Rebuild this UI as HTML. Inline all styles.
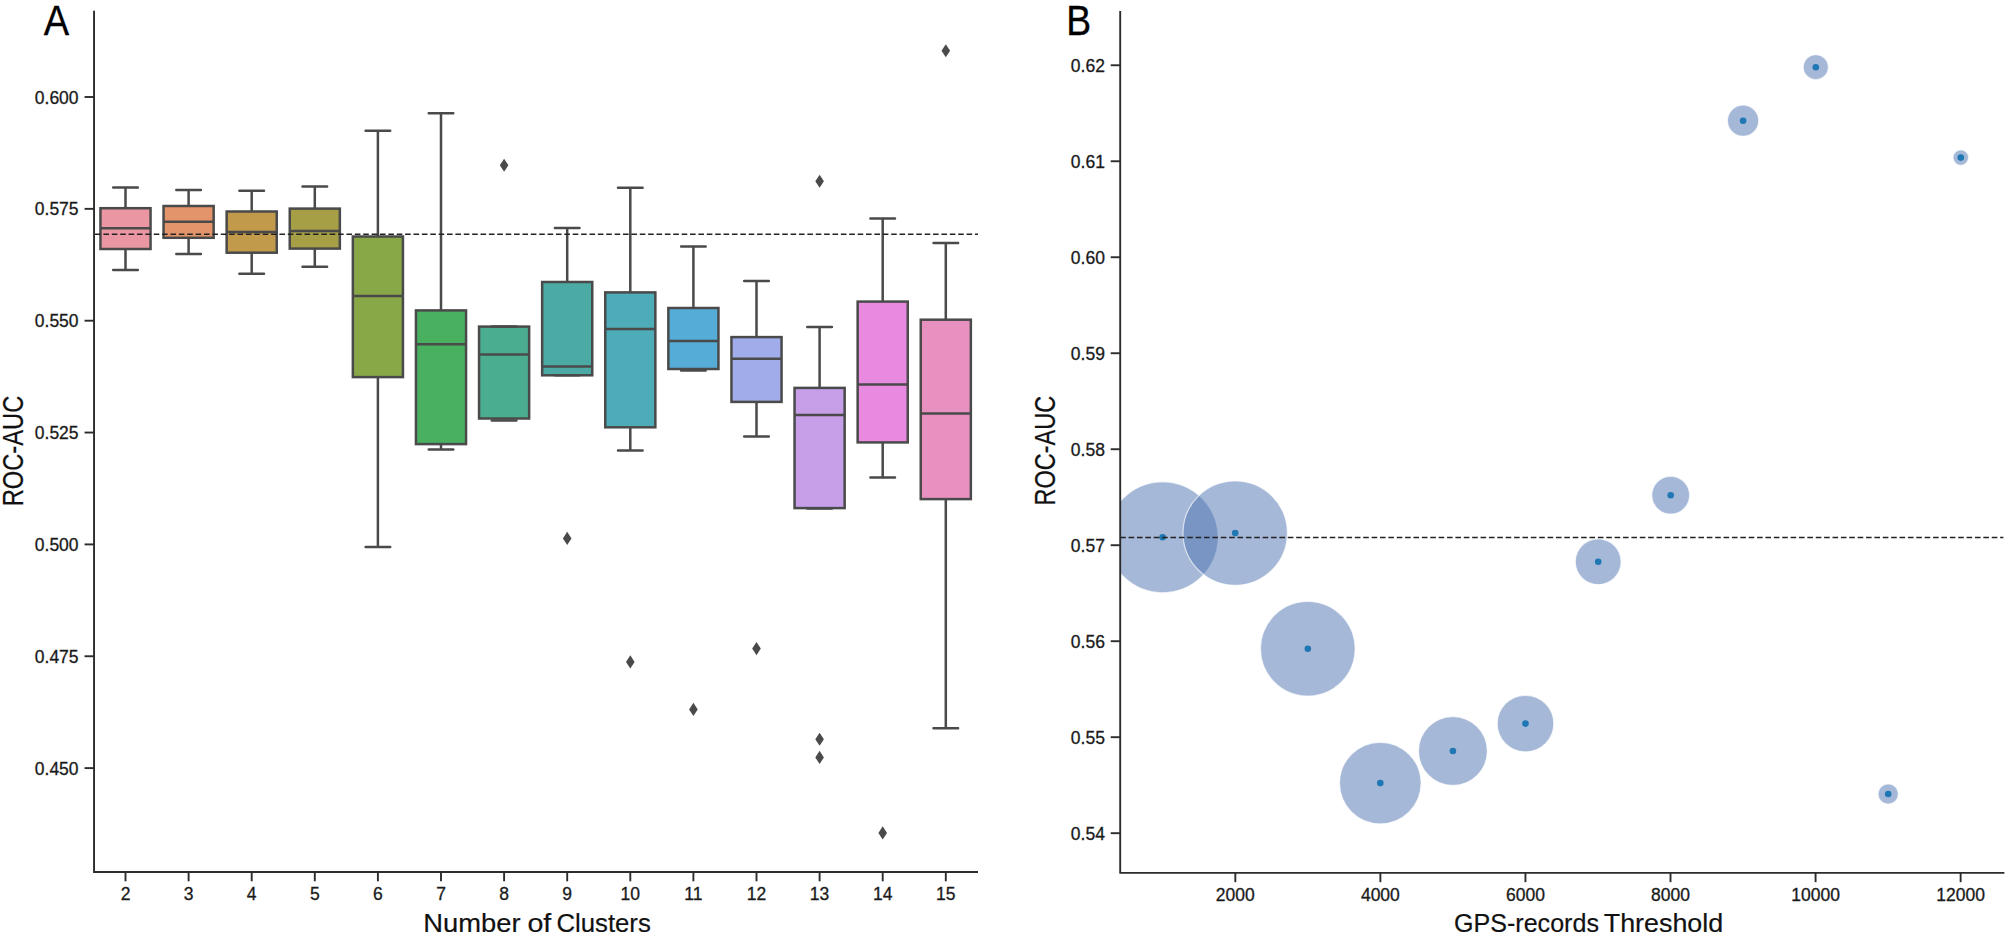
<!DOCTYPE html>
<html lang="en"><head><meta charset="utf-8"><title>ROC-AUC figure</title>
<style>html,body{margin:0;padding:0;background:#fff}svg{display:block}text{font-family:"Liberation Sans",Arial,Helvetica,sans-serif}.tk{font-size:17.5px;fill:#1a1a1a;stroke:#1a1a1a;stroke-width:.3px}.lb{font-size:26.5px;fill:#111;stroke:#111;stroke-width:.2px}.yl{font-size:29.4px}.pl{font-size:43.1px;fill:#000;stroke:#000;stroke-width:.3px}</style>
</head><body>
<svg width="2007" height="936" viewBox="0 0 2007 936">
<rect width="2007" height="936" fill="#fff"/>
<g id="panelA">
<g stroke="#4a4a4a" stroke-width="2.50" fill="none">
<rect x="100.45" y="208.20" width="50.10" height="40.80" fill="#ea96a3" stroke-linejoin="miter"/>
<path d="M125.50 208.20V187.60M125.50 249.00V270.00"/>
<path stroke-linecap="round" d="M113.20 187.60H137.80M113.20 270.00H137.80"/>
<path d="M100.45 228.30H150.55"/>
</g>
<g stroke="#4a4a4a" stroke-width="2.50" fill="none">
<rect x="163.55" y="206.00" width="50.10" height="31.80" fill="#e4946a" stroke-linejoin="miter"/>
<path d="M188.60 206.00V189.90M188.60 237.80V254.00"/>
<path stroke-linecap="round" d="M176.30 189.90H200.90M176.30 254.00H200.90"/>
<path d="M163.55 221.70H213.65"/>
</g>
<g stroke="#4a4a4a" stroke-width="2.50" fill="none">
<rect x="226.65" y="211.50" width="50.10" height="41.20" fill="#c29a4b" stroke-linejoin="miter"/>
<path d="M251.70 211.50V190.80M251.70 252.70V273.80"/>
<path stroke-linecap="round" d="M239.40 190.80H264.00M239.40 273.80H264.00"/>
<path d="M226.65 232.10H276.75"/>
</g>
<g stroke="#4a4a4a" stroke-width="2.50" fill="none">
<rect x="289.75" y="208.60" width="50.10" height="40.00" fill="#a69f46" stroke-linejoin="miter"/>
<path d="M314.80 208.60V186.40M314.80 248.60V266.80"/>
<path stroke-linecap="round" d="M302.50 186.40H327.10M302.50 266.80H327.10"/>
<path d="M289.75 231.10H339.85"/>
</g>
<g stroke="#4a4a4a" stroke-width="2.50" fill="none">
<rect x="352.85" y="236.50" width="50.10" height="140.60" fill="#88a746" stroke-linejoin="miter"/>
<path d="M377.90 236.50V130.70M377.90 377.10V546.90"/>
<path stroke-linecap="round" d="M365.60 130.70H390.20M365.60 546.90H390.20"/>
<path d="M352.85 296.00H402.95"/>
</g>
<g stroke="#4a4a4a" stroke-width="2.50" fill="none">
<rect x="415.95" y="310.40" width="50.10" height="133.70" fill="#48b05e" stroke-linejoin="miter"/>
<path d="M441.00 310.40V113.30M441.00 444.10V449.60"/>
<path stroke-linecap="round" d="M428.70 113.30H453.30M428.70 449.60H453.30"/>
<path d="M415.95 344.20H466.05"/>
</g>
<g stroke="#4a4a4a" stroke-width="2.50" fill="none">
<rect x="479.05" y="326.60" width="50.10" height="91.90" fill="#4aad8f" stroke-linejoin="miter"/>
<path d="M504.10 326.60V326.40M504.10 418.50V420.50"/>
<path stroke-linecap="round" d="M491.80 326.40H516.40M491.80 420.50H516.40"/>
<path d="M479.05 354.50H529.15"/>
</g>
<g stroke="#4a4a4a" stroke-width="2.50" fill="none">
<rect x="542.15" y="282.00" width="50.10" height="93.30" fill="#4baba4" stroke-linejoin="miter"/>
<path d="M567.20 282.00V228.10M567.20 375.30V375.30"/>
<path stroke-linecap="round" d="M554.90 228.10H579.50M554.90 375.30H579.50"/>
<path d="M542.15 366.50H592.25"/>
</g>
<g stroke="#4a4a4a" stroke-width="2.50" fill="none">
<rect x="605.25" y="292.40" width="50.10" height="134.90" fill="#4eabb8" stroke-linejoin="miter"/>
<path d="M630.30 292.40V187.70M630.30 427.30V450.60"/>
<path stroke-linecap="round" d="M618.00 187.70H642.60M618.00 450.60H642.60"/>
<path d="M605.25 329.10H655.35"/>
</g>
<g stroke="#4a4a4a" stroke-width="2.50" fill="none">
<rect x="668.35" y="308.00" width="50.10" height="61.00" fill="#55acd7" stroke-linejoin="miter"/>
<path d="M693.40 308.00V246.50M693.40 369.00V370.50"/>
<path stroke-linecap="round" d="M681.10 246.50H705.70M681.10 370.50H705.70"/>
<path d="M668.35 340.90H718.45"/>
</g>
<g stroke="#4a4a4a" stroke-width="2.50" fill="none">
<rect x="731.45" y="337.10" width="50.10" height="64.80" fill="#a0adea" stroke-linejoin="miter"/>
<path d="M756.50 337.10V281.10M756.50 401.90V436.60"/>
<path stroke-linecap="round" d="M744.20 281.10H768.80M744.20 436.60H768.80"/>
<path d="M731.45 358.70H781.55"/>
</g>
<g stroke="#4a4a4a" stroke-width="2.50" fill="none">
<rect x="794.55" y="387.90" width="50.10" height="120.20" fill="#c79fe9" stroke-linejoin="miter"/>
<path d="M819.60 387.90V327.10M819.60 508.10V508.50"/>
<path stroke-linecap="round" d="M807.30 327.10H831.90M807.30 508.50H831.90"/>
<path d="M794.55 415.00H844.65"/>
</g>
<g stroke="#4a4a4a" stroke-width="2.50" fill="none">
<rect x="857.65" y="301.60" width="50.10" height="140.80" fill="#e78ae0" stroke-linejoin="miter"/>
<path d="M882.70 301.60V218.40M882.70 442.40V477.50"/>
<path stroke-linecap="round" d="M870.40 218.40H895.00M870.40 477.50H895.00"/>
<path d="M857.65 384.60H907.75"/>
</g>
<g stroke="#4a4a4a" stroke-width="2.50" fill="none">
<rect x="920.75" y="319.70" width="50.10" height="179.40" fill="#e891c1" stroke-linejoin="miter"/>
<path d="M945.80 319.70V243.00M945.80 499.10V728.20"/>
<path stroke-linecap="round" d="M933.50 243.00H958.10M933.50 728.20H958.10"/>
<path d="M920.75 413.50H970.85"/>
</g>
<g fill="#4a4a4a">
<path d="M504.10 158.75L508.40 165.30L504.10 171.85L499.80 165.30Z"/>
<path d="M567.20 531.85L571.50 538.40L567.20 544.95L562.90 538.40Z"/>
<path d="M630.30 655.35L634.60 661.90L630.30 668.45L626.00 661.90Z"/>
<path d="M693.40 702.85L697.70 709.40L693.40 715.95L689.10 709.40Z"/>
<path d="M756.50 642.05L760.80 648.60L756.50 655.15L752.20 648.60Z"/>
<path d="M819.60 174.65L823.90 181.20L819.60 187.75L815.30 181.20Z"/>
<path d="M819.60 732.65L823.90 739.20L819.60 745.75L815.30 739.20Z"/>
<path d="M819.60 750.85L823.90 757.40L819.60 763.95L815.30 757.40Z"/>
<path d="M882.70 826.35L887.00 832.90L882.70 839.45L878.40 832.90Z"/>
<path d="M945.80 44.25L950.10 50.80L945.80 57.35L941.50 50.80Z"/>
</g>
<path d="M94.05 234.3H978.00" stroke="#222" stroke-width="1.45" stroke-dasharray="5.6 2.78" stroke-dashoffset="-1" fill="none"/>
<path d="M94.05 10.70V872.00H978.00" stroke="#2c2c2c" stroke-width="1.9" fill="none" stroke-linejoin="miter" stroke-linecap="butt"/>
<g stroke="#2c2c2c" stroke-width="1.9">
<path d="M84.55 97.00H94.05"/>
<path d="M84.55 208.85H94.05"/>
<path d="M84.55 320.70H94.05"/>
<path d="M84.55 432.55H94.05"/>
<path d="M84.55 544.40H94.05"/>
<path d="M84.55 656.25H94.05"/>
<path d="M84.55 768.10H94.05"/>
<path d="M125.50 872.00V881.30"/>
<path d="M188.60 872.00V881.30"/>
<path d="M251.70 872.00V881.30"/>
<path d="M314.80 872.00V881.30"/>
<path d="M377.90 872.00V881.30"/>
<path d="M441.00 872.00V881.30"/>
<path d="M504.10 872.00V881.30"/>
<path d="M567.20 872.00V881.30"/>
<path d="M630.30 872.00V881.30"/>
<path d="M693.40 872.00V881.30"/>
<path d="M756.50 872.00V881.30"/>
<path d="M819.60 872.00V881.30"/>
<path d="M882.70 872.00V881.30"/>
<path d="M945.80 872.00V881.30"/>
</g>
<g class="tk" text-anchor="end">
<text x="78.6" y="103.50">0.600</text>
<text x="78.6" y="215.35">0.575</text>
<text x="78.6" y="327.20">0.550</text>
<text x="78.6" y="439.05">0.525</text>
<text x="78.6" y="550.90">0.500</text>
<text x="78.6" y="662.75">0.475</text>
<text x="78.6" y="774.60">0.450</text>
</g>
<g class="tk" text-anchor="middle">
<text x="125.50" y="899.6">2</text>
<text x="188.60" y="899.6">3</text>
<text x="251.70" y="899.6">4</text>
<text x="314.80" y="899.6">5</text>
<text x="377.90" y="899.6">6</text>
<text x="441.00" y="899.6">7</text>
<text x="504.10" y="899.6">8</text>
<text x="567.20" y="899.6">9</text>
<text x="630.30" y="899.6">10</text>
<text x="693.40" y="899.6">11</text>
<text x="756.50" y="899.6">12</text>
<text x="819.60" y="899.6">13</text>
<text x="882.70" y="899.6">14</text>
<text x="945.80" y="899.6">15</text>
</g>
<text class="lb" x="423.32" y="932.2" textLength="97.20" lengthAdjust="spacingAndGlyphs">Number</text>
<text class="lb" x="527.44" y="932.2" textLength="23.88" lengthAdjust="spacingAndGlyphs">of</text>
<text class="lb" x="556.43" y="932.2" textLength="94.36" lengthAdjust="spacingAndGlyphs">Clusters</text>
<text class="lb yl" transform="translate(23.3 506.3) rotate(-90)" textLength="110.6" lengthAdjust="spacingAndGlyphs">ROC-AUC</text>
<text class="pl" x="43.8" y="35.4" textLength="25.4" lengthAdjust="spacingAndGlyphs">A</text>
</g>
<g id="panelB">
<clipPath id="cb"><rect x="1120.20" y="10.90" width="884.20" height="861.95"/></clipPath>
<g clip-path="url(#cb)">
<g fill="#4c72b0" fill-opacity="0.5" stroke="#fff" stroke-opacity="0.65" stroke-width="1.2">
<circle cx="1162.60" cy="537.30" r="55.50"/>
<circle cx="1235.20" cy="533.10" r="52.20"/>
<circle cx="1307.80" cy="648.80" r="47.30"/>
<circle cx="1380.30" cy="783.10" r="40.80"/>
<circle cx="1452.90" cy="751.00" r="34.40"/>
<circle cx="1525.50" cy="723.60" r="28.30"/>
<circle cx="1598.20" cy="561.70" r="22.90"/>
<circle cx="1670.70" cy="495.20" r="18.90"/>
<circle cx="1743.10" cy="120.70" r="15.60"/>
<circle cx="1815.80" cy="67.20" r="12.50"/>
<circle cx="1888.20" cy="794.00" r="10.20"/>
<circle cx="1960.80" cy="157.60" r="7.80"/>
</g>
<g fill="#1f77b4">
<circle cx="1162.60" cy="537.30" r="3.3"/>
<circle cx="1235.20" cy="533.10" r="3.3"/>
<circle cx="1307.80" cy="648.80" r="3.3"/>
<circle cx="1380.30" cy="783.10" r="3.3"/>
<circle cx="1452.90" cy="751.00" r="3.3"/>
<circle cx="1525.50" cy="723.60" r="3.3"/>
<circle cx="1598.20" cy="561.70" r="3.3"/>
<circle cx="1670.70" cy="495.20" r="3.3"/>
<circle cx="1743.10" cy="120.70" r="3.3"/>
<circle cx="1815.80" cy="67.20" r="3.3"/>
<circle cx="1888.20" cy="794.00" r="3.3"/>
<circle cx="1960.80" cy="157.60" r="3.3"/>
</g>
</g>
<path d="M1120.20 537.5H2003.40" stroke="#222" stroke-width="1.45" stroke-dasharray="5.6 2.78" fill="none"/>
<path d="M1120.20 10.90V872.85H2004.40" stroke="#2c2c2c" stroke-width="1.9" fill="none" stroke-linejoin="miter" stroke-linecap="butt"/>
<g stroke="#2c2c2c" stroke-width="1.9">
<path d="M1110.70 65.26H1120.20"/>
<path d="M1110.70 161.25H1120.20"/>
<path d="M1110.70 257.24H1120.20"/>
<path d="M1110.70 353.23H1120.20"/>
<path d="M1110.70 449.22H1120.20"/>
<path d="M1110.70 545.21H1120.20"/>
<path d="M1110.70 641.20H1120.20"/>
<path d="M1110.70 737.19H1120.20"/>
<path d="M1110.70 833.18H1120.20"/>
<path d="M1235.33 872.85V882.15"/>
<path d="M1380.39 872.85V882.15"/>
<path d="M1525.45 872.85V882.15"/>
<path d="M1670.51 872.85V882.15"/>
<path d="M1815.57 872.85V882.15"/>
<path d="M1960.63 872.85V882.15"/>
</g>
<g class="tk" text-anchor="end">
<text x="1104.9" y="71.76">0.62</text>
<text x="1104.9" y="167.75">0.61</text>
<text x="1104.9" y="263.74">0.60</text>
<text x="1104.9" y="359.73">0.59</text>
<text x="1104.9" y="455.72">0.58</text>
<text x="1104.9" y="551.71">0.57</text>
<text x="1104.9" y="647.70">0.56</text>
<text x="1104.9" y="743.69">0.55</text>
<text x="1104.9" y="839.68">0.54</text>
</g>
<g class="tk" text-anchor="middle">
<text x="1235.33" y="900.6">2000</text>
<text x="1380.39" y="900.6">4000</text>
<text x="1525.45" y="900.6">6000</text>
<text x="1670.51" y="900.6">8000</text>
<text x="1815.57" y="900.6">10000</text>
<text x="1960.63" y="900.6">12000</text>
</g>
<text class="lb" x="1453.98" y="931.8" textLength="144.97" lengthAdjust="spacingAndGlyphs">GPS-records</text>
<text class="lb" x="1603.74" y="931.8" textLength="119.45" lengthAdjust="spacingAndGlyphs">Threshold</text>
<text class="lb yl" transform="translate(1054.9 505.5) rotate(-90)" textLength="109.6" lengthAdjust="spacingAndGlyphs">ROC-AUC</text>
<text class="pl" x="1066.3" y="34.7" textLength="24.9" lengthAdjust="spacingAndGlyphs">B</text>
</g>
</svg></body></html>
